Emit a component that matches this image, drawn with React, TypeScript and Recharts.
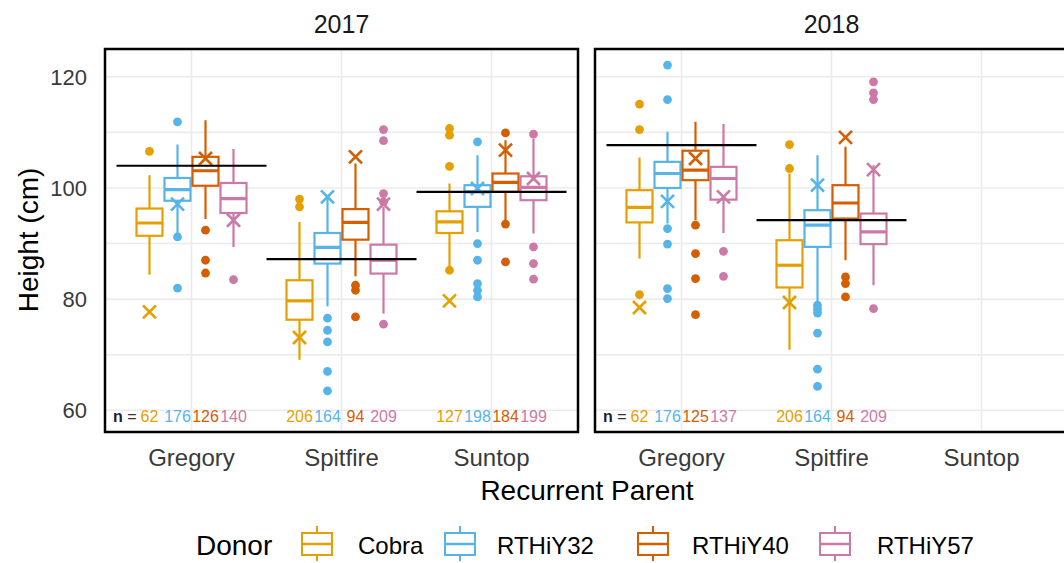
import React from "react";
import {
  ComposedChart,
  Bar,
  XAxis,
  YAxis,
  CartesianGrid,
  ReferenceLine,
  ReferenceArea,
} from "recharts";

const FONT = '"Liberation Sans", Arial, Helvetica, sans-serif';

const PARENTS = ["Gregory", "Spitfire", "Suntop"];
const DONORS = ["Cobra", "RTHiY32", "RTHiY40", "RTHiY57"];
const DONOR_COLORS = ["#E69F00", "#56B4E9", "#D55E00", "#CC79A7"];
const Y_TICKS = [60, 70, 80, 90, 100, 110, 120];

// per parent, per donor: [lower whisker, q1, median, q3, upper whisker]
const BOX_2017 = [
  [[84.4, 91.4, 93.7, 96.3, 102.3], [91.8, 97.7, 99.7, 101.8, 107.8], [94.4, 100.4, 103.1, 105.6, 112.2], [89.4, 95.5, 98.1, 100.9, 107.0]],
  [[69.1, 76.3, 79.7, 83.4, 93.9], [78.7, 86.4, 89.3, 91.9, 98.1], [84.1, 90.7, 93.8, 96.2, 104.4], [77.4, 84.6, 87.0, 89.8, 96.6]],
  [[85.8, 91.9, 93.9, 95.8, 100.8], [92.1, 96.6, 99.3, 100.5, 105.9], [94.2, 99.3, 101.0, 102.6, 108.6], [91.8, 97.8, 100.1, 102.1, 108.9]],
];
const MEAN_2017 = [
  [77.7, 97.1, 105.3, 94.2],
  [73.1, 98.4, 105.6, 97.1],
  [79.7, 99.9, 106.8, 101.7],
];
const OUTLIERS_2017 = [
  [[106.6], [111.9, 91.2, 82.0], [92.4, 87.0, 84.7], [83.5]],
  [[98.0, 96.6], [76.6, 74.4, 72.3, 67.0, 63.5], [82.5, 81.6, 76.8], [110.5, 108.5, 99.0, 97.5, 75.5]],
  [[110.7, 109.5, 103.9, 85.2], [108.3, 90.0, 87.0, 82.8, 81.6, 80.4], [109.9, 93.5, 86.7], [109.7, 89.4, 86.4, 83.6]],
];
const N_2017 = [
  [62, 176, 126, 140],
  [206, 164, 94, 209],
  [127, 198, 184, 199],
];
const PARENT_MEAN_2017 = [104.0, 87.2, 99.3];

const BOX_2018 = [
  [[87.3, 93.8, 96.5, 99.6, 105.5], [93.6, 100.0, 102.6, 104.7, 110.1], [94.2, 101.4, 103.2, 106.7, 111.9], [91.9, 97.9, 101.7, 103.8, 111.5]],
  [[70.9, 82.1, 86.1, 90.6, 102.6], [79.2, 89.4, 93.3, 96.0, 105.9], [87.0, 94.5, 97.3, 100.5, 107.4], [82.5, 89.9, 92.1, 95.4, 104.1]],
  [null, null, null, null],
];
const MEAN_2018 = [
  [78.5, 97.6, 105.3, 98.4],
  [79.4, 100.5, 109.1, 103.3],
  [null, null, null, null],
];
const OUTLIERS_2018 = [
  [[115.1, 110.5, 80.8], [122.1, 115.9, 92.7, 89.9, 81.9, 80.1], [93.3, 88.2, 83.7, 77.2], [88.6, 84.1]],
  [[107.8, 103.5], [78.9, 78.2, 77.5, 73.9, 67.4, 64.3], [84.0, 82.8, 80.4], [119.1, 117.1, 115.9, 78.3]],
  [[], [], [], []],
];
const N_2018 = [
  [62, 176, 125, 137],
  [206, 164, 94, 209],
  [null, null, null, null],
];
const PARENT_MEAN_2018 = [107.7, 94.2, null];

type Facet = {
  boxes: (number[] | null)[][];
  means: (number | null)[][];
  outliers: number[][][];
  counts: (number | null)[][];
  parentMeans: (number | null)[];
};

const FACET_2017: Facet = { boxes: BOX_2017, means: MEAN_2017, outliers: OUTLIERS_2017, counts: N_2017, parentMeans: PARENT_MEAN_2017 };
const FACET_2018: Facet = { boxes: BOX_2018, means: MEAN_2018, outliers: OUTLIERS_2018, counts: N_2018, parentMeans: PARENT_MEAN_2018 };

// layout
const Y_DOMAIN: [number, number] = [56.1, 125];
const PLOT_W = 473;
const X_PAD = 11.5;
const BAND = (PLOT_W - 2 * X_PAD) / PARENTS.length;
const NUM_DOMAIN: [number, number] = [0.5 - X_PAD / BAND, PARENTS.length + 0.5 + X_PAD / BAND];
const CHART_H = 480;

// pos: 1-based position of each parent on the hidden numeric axis
const rows = PARENTS.map((parent, idx) => ({ parent, idx, pos: idx + 1 }));

function extent(f: Facet, i: number, j: number): [number, number] | null {
  const b = f.boxes[i][j];
  if (!b) return null;
  const m = f.means[i][j];
  const vals = [...b, ...f.outliers[i][j], ...(m != null ? [m] : [])];
  return [Math.min(...vals), Math.max(...vals)];
}

function boxShape(f: Facet, j: number) {
  return (props: any) => {
    const { x, y, width, height, payload } = props;
    const i = payload?.idx;
    const box = i != null ? f.boxes[i][j] : null;
    const ext = i != null ? extent(f, i, j) : null;
    if (!box || !ext || !isFinite(y) || !isFinite(height)) return <g />;
    const [lo, hi] = ext;
    const top = Math.min(y, y + height);
    const bot = Math.max(y, y + height);
    const k = (bot - top) / (hi - lo);
    const py = (v: number) => top + (hi - v) * k;
    const cx = x + width / 2;
    const color = DONOR_COLORS[j];
    const half = 13;
    const [wl, q1, med, q3, wh] = box;
    const mean = f.means[i][j];
    const n = f.counts[i][j];
    return (
      <g>
        <line x1={cx} x2={cx} y1={py(wh)} y2={py(q3)} stroke={color} strokeWidth={2.2} />
        <line x1={cx} x2={cx} y1={py(q1)} y2={py(wl)} stroke={color} strokeWidth={2.2} />
        <rect x={cx - half} y={py(q3)} width={half * 2} height={py(q1) - py(q3)} fill="#fff" stroke={color} strokeWidth={2.2} />
        <line x1={cx - half} x2={cx + half} y1={py(med)} y2={py(med)} stroke={color} strokeWidth={3.2} />
        {f.outliers[i][j].map((v, q) => (
          <circle key={q} cx={cx} cy={py(v)} r={4.4} fill={color} />
        ))}
        {mean != null && (
          <g stroke={color} strokeWidth={2.6}>
            <line x1={cx - 6.5} y1={py(mean) - 6.5} x2={cx + 6.5} y2={py(mean) + 6.5} />
            <line x1={cx - 6.5} y1={py(mean) + 6.5} x2={cx + 6.5} y2={py(mean) - 6.5} />
          </g>
        )}
        {n != null && (
          <text x={cx} y={py(60)} dy="0.72em" textAnchor="middle" fontSize={16} fill={color}>
            {n}
          </text>
        )}
        {n != null && i === 0 && j === 0 && (
          <text x={cx - 13} y={py(60)} dy="0.72em" textAnchor="end" fontSize={16}>
            <tspan fill="#1B1B3A" fontWeight="bold">n</tspan>
            <tspan fill="#333"> =</tspan>
          </text>
        )}
      </g>
    );
  };
}

function FacetChart({ facet, showY, width, left }: { facet: Facet; showY: boolean; width: number; left: number }) {
  const marginLeft = showY ? 45 : 5;
  return (
    <div style={{ position: "absolute", left, top: 0 }}>
      <ComposedChart
        width={width}
        height={CHART_H}
        data={rows}
        barGap={0}
        margin={{ top: 49, right: width - marginLeft - (showY ? 60 : 0) - PLOT_W, bottom: 8, left: marginLeft }}
      >
        <CartesianGrid stroke="#EBEBEB" strokeWidth={1.6} />
        <XAxis
          dataKey="parent"
          type="category"
          padding={{ left: X_PAD, right: X_PAD }}
          axisLine={false}
          tickLine={false}
          tickSize={0}
          tickMargin={17}
          height={40}
          interval={0}
          tick={{ fontSize: 24, fill: "#3a3a3a" }}
        />
        <XAxis xAxisId="num" dataKey="pos" type="number" domain={NUM_DOMAIN} allowDataOverflow hide />
        <YAxis
          type="number"
          domain={Y_DOMAIN}
          allowDataOverflow
          ticks={Y_TICKS}
          interval={0}
          hide={!showY}
          width={60}
          axisLine={false}
          tickLine={false}
          tickSize={0}
          tickMargin={18}
          tickFormatter={(v: number) => (v % 20 === 0 ? String(v) : "")}
          tick={{ fontSize: 22, fill: "#3a3a3a" }}
        />
        <ReferenceArea
          xAxisId="num"
          x1={NUM_DOMAIN[0]}
          x2={NUM_DOMAIN[1]}
          y1={Y_DOMAIN[0]}
          y2={Y_DOMAIN[1]}
          fill="none"
          stroke="#000"
          strokeWidth={2.5}
          ifOverflow="visible"
        />
        {DONORS.map((d, j) => (
          <Bar
            key={d}
            name={d}
            dataKey={(row: { idx: number }) => extent(facet, row.idx, j)}
            barSize={28}
            fill={DONOR_COLORS[j]}
            shape={boxShape(facet, j)}
            isAnimationActive={false}
          />
        ))}
        {facet.parentMeans.map((m, i) =>
          m == null ? null : (
            <ReferenceLine
              key={i}
              xAxisId="num"
              segment={[
                { x: i + 0.5, y: m },
                { x: i + 1.5, y: m },
              ]}
              stroke="#000"
              strokeWidth={2.2}
            />
          )
        )}
      </ComposedChart>
    </div>
  );
}

const LEGEND_KEY_X = [317, 460, 653, 835];
const LEGEND_LABEL_X = [358, 497, 692, 877];

function LegendKey({ cx, cy, color }: { cx: number; cy: number; color: string }) {
  return (
    <g stroke={color} strokeWidth={2}>
      <line x1={cx} x2={cx} y1={cy - 18} y2={cy - 11} />
      <rect x={cx - 15} y={cy - 11} width={30} height={22} fill="#fff" />
      <line x1={cx - 15} x2={cx + 15} y1={cy} y2={cy} strokeWidth={2.5} />
      <line x1={cx} x2={cx} y1={cy + 11} y2={cy + 17} />
    </g>
  );
}

export default function App() {
  return (
    <div
      style={{
        position: "fixed",
        left: 0,
        top: 0,
        width: 1064,
        height: 563,
        overflow: "hidden",
        background: "#fff",
        fontFamily: FONT,
      }}
    >
      <FacetChart facet={FACET_2017} showY width={590} left={0} />
      <FacetChart facet={FACET_2018} showY={false} width={490} left={590} />
      <svg width={1064} height={563} style={{ position: "absolute", left: 0, top: 0, pointerEvents: "none" }}>
        <text x={341.5} y={33} textAnchor="middle" fontSize={25} fill="#1A1A1A">
          2017
        </text>
        <text x={831.5} y={33} textAnchor="middle" fontSize={25} fill="#1A1A1A">
          2018
        </text>
        <text x={38} y={240} textAnchor="middle" fontSize={28} fill="#000" transform="rotate(-90 38 240)">
          Height (cm)
        </text>
        <text x={587} y={500} textAnchor="middle" fontSize={28} fill="#000">
          Recurrent Parent
        </text>
        <text x={196} y={555} fontSize={28} fill="#000">
          Donor
        </text>
        {DONORS.map((d, j) => (
          <g key={d}>
            <LegendKey cx={LEGEND_KEY_X[j]} cy={544} color={DONOR_COLORS[j]} />
            <text x={LEGEND_LABEL_X[j]} y={553.5} fontSize={24} fill="#000">
              {d}
            </text>
          </g>
        ))}
      </svg>
    </div>
  );
}
